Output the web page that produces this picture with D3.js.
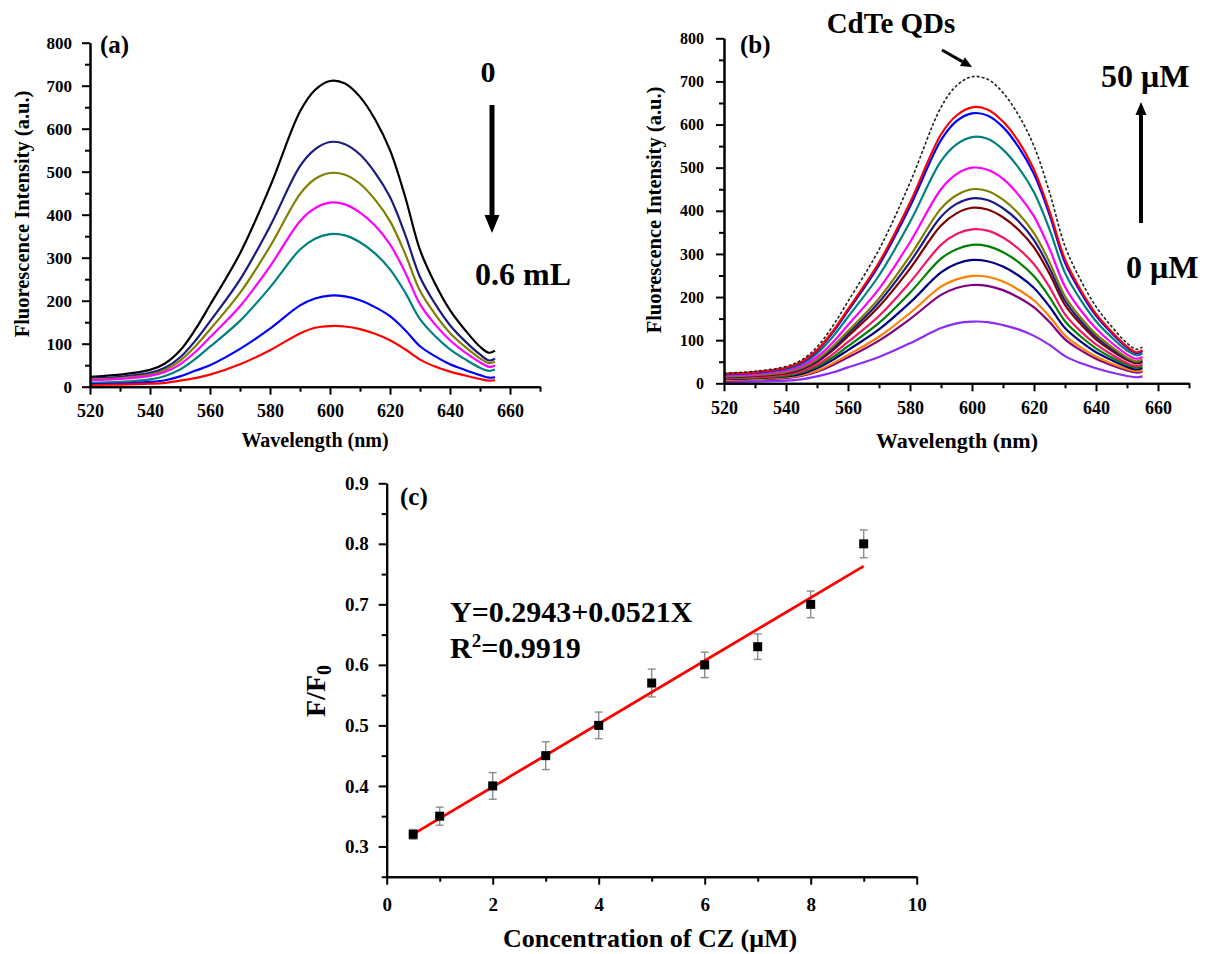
<!DOCTYPE html>
<html>
<head>
<meta charset="utf-8">
<script src="https://cdn.jsdelivr.net/npm/d3@7"></script>
<style>
  body { margin: 0; background: #fff; }
  svg, svg text { font-family: "Liberation Serif", "Times New Roman", serif; font-weight: bold; }
</style>
</head>
<body>
<svg id="fig" width="1207" height="954"></svg>
<script>
// ---- data ----
const wavelengths = [520,530,540,545,550,555,560,570,580,590,595,600,605,610,615,620,625,630,635,640,645,650,653,655];

// (a) spectra, top to bottom (0 -> 0.6 mL)
const specA = [
  [23,28,39,54,84,132,190,310,465,640,690,711,705,674,622,550,443,318,240,178,132,93,79,84],
  [19,23,32,44,68,106,152,249,373,513,552,569,564,540,498,441,355,255,193,143,106,75,61,65],
  [17,20,28,39,60,93,133,218,326,448,483,497,493,472,435,385,310,223,169,125,93,66,55,58],
  [15,18,25,34,52,80,115,187,280,385,415,428,424,405,375,331,267,192,145,108,80,57,46,49],
  [9,11,17,25,40,64,93,153,231,319,344,355,352,336,310,273,220,157,118,87,64,44,37,40],
  [6,7,11,15,24,37,50,88,135,189,205,212,210,201,185,164,132,94,71,52,39,27,21,22],
  [4,5,7,9,14,20,28,52,85,124,137,141,140,134,123,108,87,63,47,35,26,18,14,15]
];
const colorsA = ["#000000","#1a1a80","#808000","#ff00ff","#008080","#0000ff","#ff0000"];

// (b) spectra: CdTe QDs (dashed) then 50 uM -> 0 uM
const qdSpectrum = [23,28,39,54,84,132,190,310,465,640,690,711,705,674,622,550,443,318,240,178,132,93,79,84];
const specB = [
  [22,26,36,50,77,120,172,280,419,577,621,640,635,607,561,495,399,287,217,161,120,85,72,77],
  [21,25,35,48,75,117,168,274,410,564,608,626,621,594,548,485,391,280,212,157,117,83,70,75],
  [20,24,33,45,69,107,154,250,374,515,554,571,567,542,500,443,357,256,194,144,107,76,65,69],
  [18,21,29,40,61,94,135,219,327,450,485,500,495,474,437,387,312,224,170,127,94,67,57,61],
  [16,19,26,36,55,85,121,197,295,405,436,450,446,426,394,348,281,202,153,114,85,60,51,55],
  [15,18,25,34,52,80,115,188,281,386,416,429,425,406,376,332,267,192,145,108,80,57,49,52],
  [14,17,23,32,49,76,109,178,266,366,394,407,403,385,356,315,254,182,138,102,76,54,46,49],
  [12,14,20,28,43,67,96,156,234,321,346,357,354,338,312,276,223,160,121,90,67,47,40,43],
  [11,13,18,25,39,60,86,140,210,289,311,321,318,304,281,248,200,144,109,81,60,43,36,39],
  [10,12,16,22,35,54,77,125,187,257,277,286,283,271,250,221,178,128,97,72,54,38,32,35],
  [8,10,14,19,29,46,66,108,163,224,241,249,247,236,217,192,155,111,84,62,46,33,28,29],
  [7,9,12,17,27,42,60,99,149,205,221,228,226,216,199,176,142,102,77,57,42,30,25,27],
  [3,4,6,9,16,25,37,61,93,128,139,143,142,135,125,110,89,63,47,35,25,17,14,16]
];
const colorsB = ["#ff0000","#0000ff","#008080","#ff00ff","#808000","#1a1a8a","#800000",
                 "#f0186a","#008000","#000080","#ff8000","#800080","#8b2cf5"];

const wlTicks = [520,540,560,580,600,620,640,660];
const wlMinor = [530,550,570,590,610,630,650,670];
const intTicks = [0,100,200,300,400,500,600,700,800];
const intMinor = [50,150,250,350,450,550,650,750];

// (c) calibration
const conc = [0.5,1,2,3,4,5,6,7,8,9];
const ratio = [0.32,0.35,0.40,0.45,0.50,0.57,0.60,0.63,0.70,0.80];
const ratioErr = [0.008,0.015,0.022,0.023,0.022,0.023,0.021,0.021,0.022,0.023];
const fitIntercept = 0.2943, fitSlope = 0.0521;
const concTicks = [0,2,4,6,8,10];
const concMinor = [1,3,5,7,9];
const ratioTicks = [0.3,0.4,0.5,0.6,0.7,0.8,0.9];
const ratioMinor = [0.25,0.35,0.45,0.55,0.65,0.75,0.85];

const svg = d3.select("#fig");

function axes(x, y, o) {
  const gx = svg.append("g").attr("transform", `translate(0,${y.range()[0]})`);
  gx.call(d3.axisBottom(x).tickValues(o.xMinor).tickSize(5).tickFormat("").tickSizeOuter(0));
  gx.call(g => g.append("g").call(d3.axisBottom(x).tickValues(o.xTicks).tickSize(8)
      .tickPadding(o.xPad).tickSizeOuter(0).tickFormat(o.xFormat || d3.format("d"))));
  const gy = svg.append("g").attr("transform", `translate(${x.range()[0]},0)`);
  gy.call(d3.axisLeft(y).tickValues(o.yMinor).tickSize(5).tickFormat("").tickSizeOuter(0));
  gy.call(g => g.append("g").call(d3.axisLeft(y).tickValues(o.yTicks).tickSize(8)
      .tickPadding(o.yPad).tickSizeOuter(0).tickFormat(o.yFormat || d3.format("d"))));
  [gx, gy].forEach(g => {
    // drop d3's sans-serif defaults so the page font is used
    g.attr("font-family", null).attr("font-size", null);
    g.selectAll("g").attr("font-family", null).attr("font-size", null);
    g.selectAll(".domain").attr("stroke", "#000").attr("stroke-width", 2);
    g.selectAll("line").attr("stroke", "#000").attr("stroke-width", 2);
    g.selectAll("text").attr("fill", "#000");
  });
  gx.selectAll("text").attr("font-size", o.xFont);
  gy.selectAll("text").attr("font-size", o.yFont);
}

function label(txt, x, y, size, anchor, rot) {
  return svg.append("text")
    .attr("transform", `translate(${x},${y})` + (rot ? ` rotate(${rot})` : ""))
    .attr("text-anchor", anchor || "start")
    .attr("font-size", size)
    .text(txt);
}

function arrow(x1, y1, x2, y2, w, headL, headW) {
  const ang = Math.atan2(y2 - y1, x2 - x1);
  const bx = x2 - headL * Math.cos(ang), by = y2 - headL * Math.sin(ang);
  svg.append("line").attr("x1", x1).attr("y1", y1).attr("x2", bx).attr("y2", by)
    .attr("stroke", "#000").attr("stroke-width", w);
  const px = -Math.sin(ang) * headW / 2, py = Math.cos(ang) * headW / 2;
  svg.append("path").attr("d", `M${x2},${y2}L${bx + px},${by + py}L${bx - px},${by - py}Z`).attr("fill", "#000");
}

const smooth = d3.curveCatmullRom.alpha(0.5);

// ---- (a) ----
const xa = d3.scaleLinear().domain([520, 670]).range([90, 540]);
const ya = d3.scaleLinear().domain([0, 800]).range([386.7, 42.7]);
const lineA = d3.line().x((d, i) => xa(wavelengths[i])).y(d => ya(d)).curve(smooth);

svg.append("g").selectAll("path").data(specA).join("path")
  .attr("d", lineA).attr("fill", "none")
  .attr("stroke", (d, i) => colorsA[i]).attr("stroke-width", 2.2);

axes(xa, ya, {xTicks: wlTicks, xMinor: wlMinor, yTicks: intTicks, yMinor: intMinor,
  xPad: 10, yPad: 10, xFont: 18, yFont: 17});

label("(a)", 100, 53, 25);
label("Fluorescence Intensity (a.u.)", 29, 214, 20.5, "middle", -90);
label("Wavelength (nm)", 315, 447, 20, "middle");
label("0", 488, 82, 30, "middle");
arrow(492, 105, 492, 233, 5, 18, 15);
label("0.6 mL", 475, 285, 32);

// ---- (b) ----
const xb = d3.scaleLinear().domain([520, 670]).range([724, 1189]);
const yb = d3.scaleLinear().domain([0, 800]).range([383.3, 38.3]);
const lineB = d3.line().x((d, i) => xb(wavelengths[i])).y(d => yb(d)).curve(smooth);

svg.append("g").selectAll("path").data(specB.slice().reverse()).join("path")
  .attr("d", lineB).attr("fill", "none")
  .attr("stroke", (d, i) => colorsB[specB.length - 1 - i]).attr("stroke-width", 2.2);

svg.append("path").datum(qdSpectrum).attr("d", lineB).attr("fill", "none")
  .attr("stroke", "#222").attr("stroke-width", 1.6).attr("stroke-dasharray", "3,2");

axes(xb, yb, {xTicks: wlTicks, xMinor: wlMinor, yTicks: intTicks, yMinor: intMinor,
  xPad: 10, yPad: 12, xFont: 18, yFont: 16});

label("(b)", 740, 53, 25);
label("Fluorescence Intensity (a.u.)", 661, 210, 20.5, "middle", -90);
label("Wavelength (nm)", 957, 448, 22, "middle");
label("CdTe QDs", 891, 33, 29, "middle");
arrow(942, 50, 972, 67, 3, 11, 10);
label("50 μM", 1101, 87, 32);
arrow(1141, 223, 1141, 102, 4, 13, 11);
label("0 μM", 1126, 278, 32);

// ---- (c) ----
const xc = d3.scaleLinear().domain([0, 10]).range([386.7, 916.7]);
const yc = d3.scaleLinear().domain([0.25, 0.9]).range([876.7, 483.3]);

axes(xc, yc, {xTicks: concTicks, xMinor: concMinor, yTicks: ratioTicks, yMinor: ratioMinor,
  xPad: 13, yPad: 10, xFont: 19, yFont: 19, yFormat: d3.format(".1f")});

const pts = conc.map((c, i) => ({c, r: ratio[i], e: ratioErr[i]}));
const eb = svg.append("g").attr("stroke", "#8c8c8c").attr("stroke-width", 1.4);
eb.selectAll(".v").data(pts).join("line")
  .attr("x1", d => xc(d.c)).attr("x2", d => xc(d.c))
  .attr("y1", d => yc(d.r - d.e)).attr("y2", d => yc(d.r + d.e));
eb.selectAll(".t").data(pts.flatMap(d => [d.r - d.e, d.r + d.e].map(v => ({c: d.c, v})))).join("line")
  .attr("x1", d => xc(d.c) - 4).attr("x2", d => xc(d.c) + 4)
  .attr("y1", d => yc(d.v)).attr("y2", d => yc(d.v));

svg.append("line")
  .attr("x1", xc(conc[0])).attr("y1", yc(fitIntercept + fitSlope * conc[0]))
  .attr("x2", xc(conc[conc.length - 1])).attr("y2", yc(fitIntercept + fitSlope * conc[conc.length - 1]))
  .attr("stroke", "#ff0000").attr("stroke-width", 2.8);

svg.append("g").selectAll("rect").data(pts).join("rect")
  .attr("x", d => xc(d.c) - 4.5).attr("y", d => yc(d.r) - 4.5)
  .attr("width", 9).attr("height", 9).attr("fill", "#000");

label("(c)", 400, 505, 25);
label("Y=0.2943+0.0521X", 450, 622, 30);
const r2 = label("R", 450, 658, 30);
r2.append("tspan").attr("font-size", 19).attr("dy", -11).text("2");
r2.append("tspan").attr("dy", 11).text("=0.9919");
const ff = label("F/F", 325, 691, 28, "middle", -90);
ff.append("tspan").attr("font-size", 20).attr("dy", 6).text("0");
label("Concentration of CZ (μM)", 650, 947, 26, "middle");
</script>
</body>
</html>
